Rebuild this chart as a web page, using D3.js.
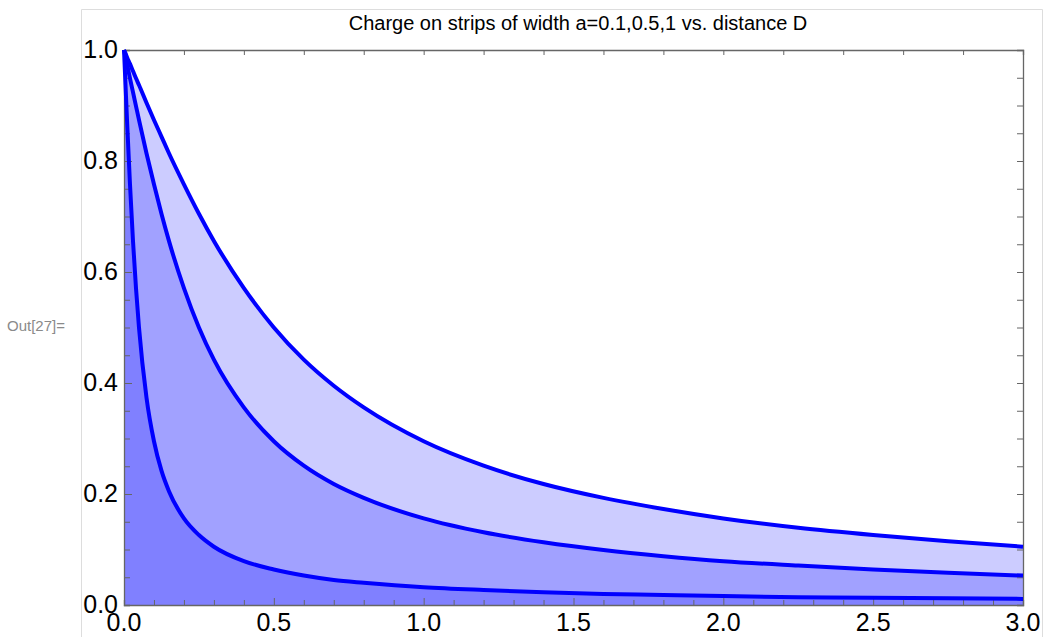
<!DOCTYPE html>
<html>
<head>
<meta charset="utf-8">
<script src="https://cdn.jsdelivr.net/npm/d3@7"></script>
<style>
  html, body { margin: 0; padding: 0; background: #fff; }
  svg { display: block; font-family: "Liberation Sans", Arial, sans-serif; }
</style>
</head>
<body>
<svg id="chart" width="1045" height="637"></svg>
<script>
// distance D (x) and charge fraction for each strip width
const distance = [0, 0.005, 0.01, 0.02, 0.03, 0.04, 0.05, 0.075, 0.1, 0.125, 0.15, 0.2, 0.25, 0.3,
  0.4, 0.5, 0.6, 0.7, 0.8, 1.0, 1.2, 1.4, 1.6, 1.8, 2.0, 2.25, 2.5, 2.75, 3.0];
const chargeA1 = [1, 0.994, 0.987, 0.975, 0.962, 0.949, 0.937, 0.905, 0.874, 0.844, 0.814, 0.758, 0.705, 0.656,
  0.571, 0.5, 0.442, 0.395, 0.356, 0.295, 0.251, 0.218, 0.193, 0.173, 0.156, 0.139, 0.126, 0.115, 0.105];
const chargeA05 = [1, 0.987, 0.975, 0.949, 0.924, 0.899, 0.874, 0.814, 0.758, 0.705, 0.656, 0.571, 0.5, 0.442,
  0.356, 0.295, 0.251, 0.218, 0.193, 0.156, 0.131, 0.113, 0.099, 0.088, 0.079, 0.071, 0.064, 0.058, 0.053];
const chargeA01 = [1, 0.937, 0.874, 0.758, 0.656, 0.571, 0.5, 0.374, 0.295, 0.242, 0.205, 0.156, 0.126, 0.105,
  0.079, 0.064, 0.053, 0.045, 0.040, 0.032, 0.027, 0.023, 0.020, 0.018, 0.016, 0.014, 0.013, 0.012, 0.011];
const series = [chargeA1, chargeA05, chargeA01];
const fills = ["rgb(204,204,255)", "rgb(161,161,255)", "rgb(128,128,255)"];

const xTicks = [0, 0.5, 1.0, 1.5, 2.0, 2.5, 3.0];
const yTicks = [0, 0.2, 0.4, 0.6, 0.8, 1.0];
const title = "Charge on strips of width a=0.1,0.5,1 vs. distance D";

const svg = d3.select("#chart");
const plot = { left: 124, right: 1023, top: 50, bottom: 605 };

const x = d3.scaleLinear().domain([0, 3]).range([plot.left, plot.right]);
const y = d3.scaleLinear().domain([0, 1]).range([plot.bottom, plot.top]);

// notebook output frame
svg.append("path")
  .attr("d", `M81.5,640V9.5H1042.5V640`)
  .attr("fill", "none").attr("stroke", "#ddd");

svg.append("text")
  .attr("x", 7).attr("y", 331)
  .attr("font-size", 15).attr("fill", "#8a8a8a")
  .text("Out[27]=");

// filled areas, largest first
const area = d3.area()
  .x((d, i) => x(distance[i]))
  .y0(y(0))
  .y1(d => y(d))
  .curve(d3.curveMonotoneX);

const line = d3.line()
  .x((d, i) => x(distance[i]))
  .y(d => y(d))
  .curve(d3.curveMonotoneX);

svg.selectAll(".area").data(series).join("path")
  .attr("class", "area")
  .attr("d", area)
  .attr("fill", (d, i) => fills[i]);

// frame with ticks
const frameColor = "#666";

const xAxis = svg.append("g").attr("transform", `translate(0,${plot.bottom})`)
  .call(d3.axisBottom(x).tickValues(d3.range(0, 31).map(i => i / 10))
    .tickSize(-5).tickFormat(""));
xAxis.selectAll(".tick line")
  .attr("y2", d => (Math.round(d * 10) % 5 === 0 ? -7 : -5));

svg.append("g").attr("transform", `translate(0,${plot.top})`)
  .call(d3.axisTop(x).tickValues(d3.range(0, 16).map(i => i / 5))
    .tickSize(-5).tickFormat(""));

const yAxis = svg.append("g").attr("transform", `translate(${plot.left},0)`)
  .call(d3.axisLeft(y).tickValues(d3.range(0, 21).map(i => i / 20))
    .tickSize(-6).tickFormat(""));
yAxis.selectAll(".tick line")
  .attr("x2", d => (Math.round(d * 20) % 4 === 0 ? 8 : 6));

svg.append("g").attr("transform", `translate(${plot.right},0)`)
  .call(d3.axisRight(y).tickValues(d3.range(0, 21).map(i => i / 20))
    .tickSize(-6).tickFormat(""));

svg.selectAll(".domain").attr("stroke", frameColor).attr("stroke-width", 1.3);
svg.selectAll(".tick line").attr("stroke", frameColor).attr("stroke-width", 1);

// curves
svg.selectAll(".curve").data(series).join("path")
  .attr("class", "curve")
  .attr("d", line)
  .attr("fill", "none")
  .attr("stroke", "#0000ff")
  .attr("stroke-width", 4)
  .attr("stroke-linejoin", "round");

// tick labels
svg.selectAll(".xlab").data(xTicks).join("text")
  .attr("class", "xlab")
  .attr("x", d => x(d)).attr("y", plot.bottom + 26)
  .attr("text-anchor", "middle").attr("font-size", 25)
  .text(d => d.toFixed(1));

svg.selectAll(".ylab").data(yTicks).join("text")
  .attr("class", "ylab")
  .attr("x", plot.left - 6).attr("y", d => y(d) + 8)
  .attr("text-anchor", "end").attr("font-size", 25)
  .text(d => d.toFixed(1));

svg.append("text")
  .attr("x", 578).attr("y", 30)
  .attr("text-anchor", "middle").attr("font-size", 20)
  .text(title);
</script>
</body>
</html>
